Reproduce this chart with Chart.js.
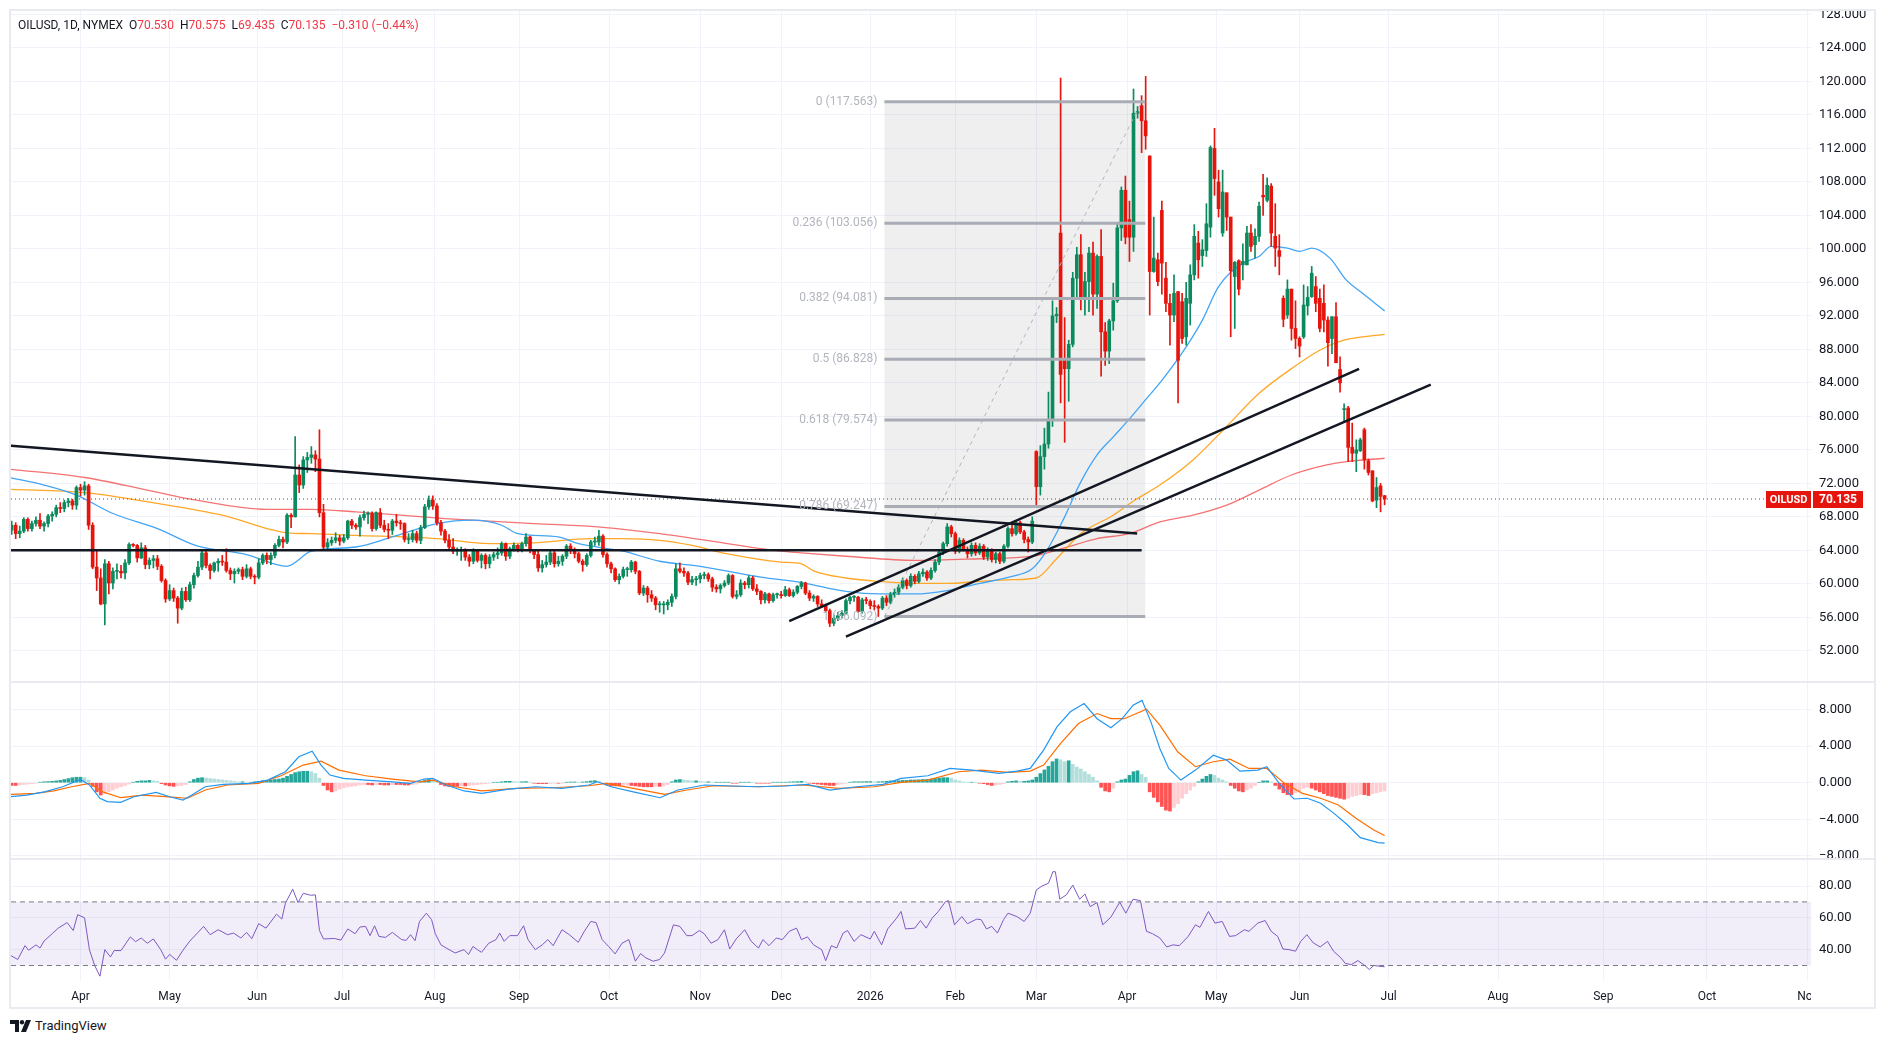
<!DOCTYPE html>
<html>
<head>
<meta charset="utf-8">
<script src="https://cdn.jsdelivr.net/npm/chart.js@4.4.1/dist/chart.umd.min.js"></script>
<style>
  html, body { margin: 0; padding: 0; background: #fff; width: 1884px; height: 1044px; overflow: hidden; }
  body { font-family: Roboto, 'Liberation Sans', sans-serif; color: #131722; }
  .pane { position: absolute; left: 0; }
  #frame { position: absolute; left: 9px; top: 9px; width: 1867px; height: 1000px; border: 2px solid #e9ebf0; box-sizing: border-box; }
  .sep { position: absolute; left: 9px; width: 1867px; height: 2px; background: #e9ebf0; }
  #hdr { position: absolute; left: 18px; top: 17px; font-size: 12px; line-height: 16px; white-space: pre; }
  #hdr .r { color: #f23645; }
  #logo { position: absolute; left: 10px; top: 1018px; font-size: 13px; line-height: 16px; display: flex; align-items: center; gap: 3px; }
</style>
</head>
<body>
<div id="frame"></div>
<div class="pane" style="top:11px;width:1874px;height:670px"><canvas id="mainChart"></canvas></div>
<div class="sep" style="top:681px"></div>
<div class="pane" style="top:683px;width:1874px;height:175px"><canvas id="macdChart"></canvas></div>
<div class="sep" style="top:858px"></div>
<div class="pane" style="top:860px;width:1874px;height:120px"><canvas id="rsiChart"></canvas></div>
<div class="pane" style="top:980px;width:1811px;height:28px"><canvas id="timeChart"></canvas></div>
<div id="hdr"></div>
<div id="logo">
  <svg width="22" height="12" viewBox="0 0 22 12"><path d="M0 0h9v12H5V4H0z" fill="#131722"/><circle cx="12" cy="2.2" r="2.2" fill="#131722"/><path d="M16 0h5l-5 12h-5z" fill="#131722"/></svg>
  <span>TradingView</span>
</div>

<script>
// --- OILUSD daily candles, Mar 2025 .. Jun 2026 (bar index 0 = first visible bar) ---
const opens = [
  66.4,67.0,66.0,66.3,67.7,66.6,67.2,67.6,66.9,67.2,
  68.1,68.3,69.1,69.0,69.7,69.9,69.4,71.5,71.2,71.7,
  67.0,62.0,60.7,57.6,62.4,60.1,61.5,61.5,61.3,62.5,
  64.7,64.6,63.1,64.3,62.3,62.8,63.0,62.1,60.4,58.2,
  59.2,58.3,57.1,59.1,58.1,59.9,61.0,62.0,63.7,62.2,
  61.6,62.5,62.7,62.6,61.6,61.2,61.5,61.7,60.9,61.8,
  60.9,60.8,62.5,63.4,62.9,63.4,64.6,65.3,65.0,68.2,
  68.0,73.0,71.8,74.8,75.1,75.4,74.9,68.5,64.4,64.9,
  65.2,65.5,65.1,65.5,67.5,67.0,66.8,67.9,68.3,68.4,
  66.6,68.5,67.0,66.5,66.4,67.5,67.3,67.2,65.3,65.3,
  66.0,65.2,66.7,69.2,70.0,69.3,67.3,66.3,65.2,64.4,
  63.9,63.9,64.0,63.2,62.7,64.0,62.8,63.4,62.4,63.2,
  63.5,63.7,64.8,63.3,64.2,64.6,64.0,64.8,65.6,64.0,
  63.5,61.9,62.3,62.6,63.7,62.4,62.7,63.3,64.5,64.1,
  63.6,62.7,62.3,63.4,65.0,65.0,65.7,63.5,62.4,61.8,
  60.5,60.9,61.7,61.7,62.6,61.5,58.9,59.5,58.7,58.3,
  57.5,57.5,57.5,57.8,58.5,61.8,61.5,61.3,60.2,60.5,
  60.6,61.0,61.1,60.6,59.6,59.4,59.8,60.1,61.0,58.5,
  58.7,60.1,59.9,60.7,59.4,59.1,58.1,58.8,58.0,58.7,
  58.7,58.6,59.3,58.6,59.0,59.7,60.1,58.9,58.3,58.5,
  57.6,57.4,56.8,55.3,55.9,56.2,56.5,58.0,58.4,58.4,
  56.7,58.1,57.9,57.4,57.3,57.1,58.3,57.8,58.7,59.0,
  59.6,60.4,59.8,60.9,60.3,61.2,61.4,60.7,61.6,62.6,
  63.8,64.8,66.8,66.0,63.9,65.2,64.1,63.6,64.6,63.7,
  64.5,63.2,64.0,62.9,63.6,62.7,64.5,66.6,66.0,67.3,
  66.2,65.3,65.0,75.8,71.6,75.2,76.7,79.5,92.0,101.9,
  86.9,85.7,88.6,96.5,99.3,94.2,96.1,99.5,94.6,99.1,
  90.1,87.8,91.4,93.8,102.5,107.0,103.5,101.4,116.2,117.1,
  115.3,111.1,97.3,98.7,104.6,96.5,93.5,92.1,94.9,93.7,
  89.5,93.5,96.9,100.7,99.2,99.8,102.6,112.0,108.0,101.9,
  106.7,103.8,96.7,98.6,98.1,98.1,101.9,100.5,101.5,106.4,
  105.8,107.5,101.5,99.8,94.1,92.1,95.2,90.5,89.3,89.5,
  93.2,94.3,95.5,94.1,93.5,91.5,89.3,91.9,85.6,80.8,
  81.0,76.3,75.6,75.9,78.4,74.7,73.5,70.0,71.7,70.53
];
const highs = [
  67.5,67.3,66.9,67.9,67.9,67.5,68.0,68.4,67.4,68.3,
  68.6,69.4,69.7,70.0,70.2,70.1,71.7,71.9,72.2,71.9,
  67.3,63.9,61.8,62.9,62.7,61.9,62.4,62.2,62.9,64.9,
  64.8,64.7,64.9,64.6,63.1,63.4,63.4,62.3,60.6,59.9,
  59.5,58.5,59.5,59.6,60.2,61.3,62.7,63.9,63.9,62.4,
  62.6,63.0,63.4,64.2,61.9,61.8,61.9,62.0,62.3,62.0,
  61.1,63.0,63.6,63.7,63.7,64.8,65.7,65.6,68.4,68.4,
  77.6,74.2,75.2,75.7,76.4,75.9,78.4,69.5,65.4,65.6,
  66.1,65.8,65.9,67.6,67.7,67.2,68.2,68.7,68.6,68.6,
  68.6,69.0,67.6,67.2,67.7,68.3,67.6,67.3,66.0,66.4,
  66.3,67.0,69.5,70.5,70.5,69.6,67.6,66.5,65.9,65.4,
  64.3,64.4,64.2,63.5,64.2,64.1,63.6,63.6,63.5,63.8,
  64.3,65.0,64.9,64.4,64.9,64.7,65.0,66.0,65.7,64.1,
  63.9,62.8,63.4,64.0,63.9,63.3,63.5,64.7,64.8,64.3,
  63.8,62.9,63.6,65.2,65.6,66.4,65.9,63.7,62.6,61.9,
  61.2,62.0,62.0,62.8,62.7,61.6,59.8,59.7,59.2,58.5,
  57.9,57.9,58.1,58.8,62.4,62.5,61.9,61.5,60.9,60.9,
  61.3,61.4,61.3,60.8,59.9,60.0,60.4,61.2,61.1,59.2,
  60.5,60.3,61.0,60.9,59.9,59.2,59.0,58.9,58.9,58.9,
  59.1,59.7,59.5,59.3,59.8,60.3,60.2,59.2,58.7,58.6,
  58.1,57.6,57.0,56.3,56.6,56.8,58.2,58.5,58.6,58.5,
  58.3,58.4,58.1,58.0,57.5,58.5,58.6,59.0,59.4,59.9,
  60.7,60.6,61.2,61.1,61.5,61.8,61.6,61.9,62.9,64.1,
  65.0,67.2,67.0,66.2,65.5,65.4,64.4,64.9,64.9,64.8,
  64.7,64.3,64.2,63.8,63.8,64.7,66.8,67.3,67.6,67.5,
  66.4,65.6,68.0,75.9,76.5,78.6,82.9,93.8,93.0,120.4,
  91.8,89.1,97.2,100.2,101.7,97.2,100.2,100.8,99.3,102.3,
  91.2,91.6,95.9,103.1,107.4,108.7,105.7,119.1,117.0,118.3,
  120.6,111.1,103.8,99.5,105.7,98.4,94.6,96.9,94.9,94.7,
  96.0,98.1,102.9,102.1,101.1,105.4,112.3,114.4,109.4,109.4,
  106.7,103.8,98.5,98.7,100.6,102.7,102.9,102.4,105.6,108.9,
  108.5,107.8,105.4,101.7,94.4,96.3,95.2,93.8,89.5,95.7,
  95.5,97.9,96.7,95.2,95.7,91.9,91.9,93.6,87.1,81.5,
  81.2,79.2,77.2,77.4,78.6,74.9,73.5,72.7,72.0,70.575
];
const lows = [
  65.9,65.4,65.5,66.1,66.3,66.3,66.9,66.6,66.3,66.8,
  67.5,68.0,68.5,68.6,69.2,68.9,68.9,70.5,70.6,66.5,
  61.8,59.2,57.5,55.1,58.8,59.4,60.6,60.7,60.6,62.3,
  64.4,62.6,63.0,61.8,61.8,61.9,61.7,60.2,57.8,58.0,
  57.9,55.3,56.9,57.9,57.9,59.5,60.8,61.7,61.9,60.6,
  61.4,61.5,62.2,61.4,60.5,60.1,61.2,60.5,60.7,60.6,
  60.0,60.6,62.3,62.4,62.3,63.1,64.4,64.3,64.8,66.7,
  68.0,70.9,71.4,73.3,74.4,73.4,68.0,64.0,64.1,64.6,
  64.9,64.6,64.9,65.3,66.6,66.5,65.7,67.6,67.2,66.3,
  66.4,66.7,66.2,65.4,65.9,66.9,66.5,65.0,64.8,65.0,
  64.9,64.8,66.6,68.9,68.9,67.0,65.8,64.9,64.0,63.6,
  63.4,62.8,62.8,62.1,62.4,62.6,61.9,61.8,61.9,62.8,
  63.0,63.4,62.8,63.0,63.9,63.8,63.8,64.5,63.7,63.0,
  61.5,61.4,62.0,62.3,62.0,62.1,62.2,63.0,63.6,63.1,
  62.5,61.5,62.1,63.2,64.6,64.6,63.2,62.0,61.3,60.3,
  60.0,60.7,60.9,61.4,61.2,58.7,58.6,57.8,57.9,56.9,
  56.6,56.4,56.9,57.3,58.2,61.3,60.9,59.9,59.9,59.8,
  60.1,60.6,60.3,59.1,59.0,58.9,59.6,59.9,58.3,58.2,
  58.5,59.4,59.5,59.2,58.7,57.6,57.7,57.7,57.8,58.3,
  58.3,58.5,58.5,58.4,58.8,59.4,58.7,58.0,57.9,57.3,
  57.2,56.6,54.9,55.0,55.6,55.9,56.4,57.6,57.9,56.6,
  56.5,57.6,57.0,56.9,56.1,56.9,57.4,57.6,58.4,58.7,
  59.4,59.4,59.6,60.0,60.1,60.9,60.4,60.5,61.4,62.3,
  63.5,64.5,65.6,63.6,63.7,63.9,63.1,63.3,63.4,63.5,
  62.9,62.8,62.6,62.5,62.4,62.5,64.3,65.7,65.8,66.0,
  64.9,63.8,64.8,69.4,70.6,73.7,76.2,78.8,91.2,81.6,
  76.9,81.8,88.3,94.2,92.7,92.1,92.5,92.1,92.9,84.8,
  86.1,86.3,90.3,93.6,101.0,100.6,98.5,99.7,115.6,111.5,
  111.9,92.1,97.2,95.6,94.6,92.5,88.5,91.3,81.6,88.7,
  88.5,90.9,96.3,96.5,97.9,99.1,101.4,106.4,103.8,101.5,
  102.2,89.5,90.5,94.5,96.3,98.1,99.7,98.9,100.9,104.0,
  105.6,100.3,97.9,96.9,90.7,91.7,89.1,88.1,87.1,89.3,
  92.1,94.2,92.5,90.1,90.1,86.0,87.5,86.4,82.9,79.4,
  74.6,74.6,73.4,75.8,73.7,73.0,69.8,69.1,68.6,69.435
];
const closes = [
  67.0,66.0,66.3,67.7,66.6,67.2,67.6,66.9,67.2,68.1,
  68.3,69.1,69.0,69.7,69.9,69.4,71.5,71.2,71.7,67.0,
  62.0,60.7,57.6,62.4,60.1,61.5,61.5,61.3,62.5,64.7,
  64.6,63.1,64.3,62.3,62.8,63.0,62.1,60.4,58.2,59.2,
  58.3,57.1,59.1,58.1,59.9,61.0,62.0,63.7,62.2,61.6,
  62.5,62.7,62.6,61.6,61.2,61.5,61.7,60.9,61.8,60.9,
  60.8,62.5,63.4,62.9,63.4,64.6,65.3,65.0,68.2,68.0,
  73.0,71.8,74.8,75.1,75.4,74.9,68.5,64.4,64.9,65.2,
  65.5,65.1,65.5,67.5,67.0,66.8,67.9,68.3,68.4,66.6,
  68.5,67.0,66.5,66.4,67.5,67.3,67.2,65.3,65.3,66.0,
  65.2,66.7,69.2,70.0,69.3,67.3,66.3,65.2,64.4,63.9,
  63.9,64.0,63.2,62.7,64.0,62.8,63.4,62.4,63.2,63.5,
  63.7,64.8,63.3,64.2,64.6,64.0,64.8,65.6,64.0,63.5,
  61.9,62.3,62.6,63.7,62.4,62.7,63.3,64.5,64.1,63.6,
  62.7,62.3,63.4,65.0,65.0,65.7,63.5,62.4,61.8,60.5,
  60.9,61.7,61.7,62.6,61.5,58.9,59.5,58.7,58.3,57.5,
  57.5,57.5,57.8,58.5,61.8,61.5,61.3,60.2,60.5,60.6,
  61.0,61.1,60.6,59.6,59.4,59.8,60.1,61.0,58.5,58.7,
  60.1,59.9,60.7,59.4,59.1,58.1,58.8,58.0,58.7,58.7,
  58.6,59.3,58.6,59.0,59.7,60.1,58.9,58.3,58.5,57.6,
  57.4,56.8,55.3,55.9,56.2,56.5,58.0,58.4,58.4,56.7,
  58.1,58.0,57.4,57.3,57.1,58.3,57.8,58.7,59.0,59.6,
  60.4,59.8,60.9,60.3,61.2,61.4,60.7,61.6,62.6,63.8,
  64.8,66.8,66.0,63.9,65.2,64.1,63.6,64.6,63.7,64.5,
  63.2,64.0,62.9,63.6,62.7,64.5,66.6,66.0,67.3,66.2,
  65.3,65.0,67.5,71.6,75.2,76.7,79.5,92.0,92.2,85.0,
  85.7,88.6,96.5,99.3,94.2,96.1,99.5,94.6,99.1,90.1,
  87.8,91.4,93.8,102.5,107.0,101.4,101.4,116.2,116.4,115.3,
  113.5,97.3,98.9,96.1,98.3,93.5,92.1,94.7,86.7,89.3,
  94.1,96.9,101.5,98.7,99.9,103.0,112.1,108.4,104.8,106.8,
  103.8,97.4,98.4,95.2,98.5,101.9,100.3,101.5,105.1,106.2,
  107.6,101.9,100.1,99.1,91.6,95.2,90.5,89.3,88.4,93.3,
  94.2,97.1,93.5,90.5,91.5,88.8,91.9,86.4,84.0,80.9,
  76.3,75.6,76.0,77.2,74.8,73.3,69.9,71.5,70.445,70.135
];

// --- moving averages [bar, price] (blue 50, orange 100, red 200) ---
const maBlue = [[-0.5,72.7],[8,71.8],[16,70.6],[25,68.4],[36,66.6],[46,64.5],[58,63.5],[68,62.1],[74,63.9],[85,64.4],[94,65.6],[105,67.2],[114,67.6],[121,67.0],[125,66.0],[135,65.6],[140,64.8],[151,63.9],[160,62.7],[170,62.1],[185,60.8],[195,60.15],[206,59.1],[214,58.8],[223,58.8],[231,59.2],[239,60.05],[247,60.9],[252,61.8],[255.5,63.9],[259.7,67.7],[263.8,72.0],[268,75.4],[272,77.55],[276,79.7],[280,82.0],[284,84.3],[290,88.3],[294,91.5],[298,95.5],[304,98.3],[308,99.1],[311,100.3],[315,100.1],[318,99.7],[321,100.1],[325.5,98.9],[329.5,96.3],[333,94.9],[339,92.6]];
const maOrange = [[-0.5,71.3],[18,70.9],[36,69.6],[52,68.2],[68,66.1],[74,66.0],[85,65.8],[105,65.4],[118,64.8],[129,64.9],[143,65.4],[151,65.4],[160,65.2],[168,64.6],[176.5,63.6],[190,62.6],[195,62.4],[198,61.55],[206,60.7],[214,60.3],[223,60.05],[231,60.05],[239,60.3],[247,60.5],[253,60.7],[258,63.0],[264,66.0],[272,68.2],[277,69.9],[283.5,71.8],[291.7,74.8],[300,78.8],[308,82.75],[316,85.7],[323,87.9],[329,89.1],[339,89.8]];
const maRed = [[-0.5,73.7],[18,72.7],[33.5,71.2],[45.6,70.0],[63,68.9],[74,68.9],[85,68.6],[107,67.8],[129,67.2],[146,66.75],[160,66.0],[170,65.3],[190,63.9],[195,63.7],[206,63.3],[223,62.8],[239,63.0],[252,63.3],[260,64.3],[268,65.4],[276,66.0],[283.5,67.4],[291.7,68.2],[300,69.4],[308,71.2],[316,73.0],[324.7,74.2],[329.6,74.6],[339,75.0]];

// --- drawings: trend lines [x1, y1, x2, y2] and fib retracement ---
const trendLines = [
  [-0.5, 76.5, 277.9, 66.0],
  [-0.5, 64.0, 279, 64.0],
  [192, 55.55, 332.7, 85.67],
  [206, 53.7, 350.4, 83.8]
];
const fibLevels = [0, 0.236, 0.382, 0.5, 0.618, 0.786, 1];
const fibPrices = [117.563, 103.056, 94.081, 86.828, 79.574, 69.247, 56.092];
const fibStart = 215.5, fibEnd = 279.9;

// --- MACD (12, 26, 9) ---
const macdLine = [[-0.5,-1.53],[3.7,-1.35],[8.1,-1.0],[12.6,-0.44],[17,0.36],[19.2,-0.25],[21.8,-1.7],[23.6,-2.07],[26.9,-2.15],[30.2,-1.53],[35.7,-1.05],[39,-1.53],[42.3,-1.9],[44.5,-1.35],[47.8,-0.44],[52.2,-0.18],[58.8,-0.07],[63.2,0.29],[67.6,1.2],[70.9,2.84],[74.2,3.45],[76.4,1.93],[78.6,0.84],[81.9,0.47],[87.4,0.29],[94,0.1],[98.5,-0.07],[101.8,0.4],[104,0.47],[107.3,-0.25],[111.7,-0.9],[116.1,-1.16],[122.7,-0.7],[129.3,-0.44],[135.9,-0.62],[142.5,-0.25],[144.7,0.1],[148,-0.44],[153.5,-1.0],[160.1,-1.64],[164.5,-0.8],[171.1,-0.25],[177.8,-0.36],[184.4,-0.44],[191,-0.36],[196.5,-0.18],[202,-0.8],[208.6,-0.44],[215.2,-0.18],[219.6,0.47],[226.2,0.76],[231.7,1.56],[237.2,1.38],[243.8,1.02],[248.2,1.27],[251.5,1.56],[254.8,3.56],[258.1,6.1],[261.4,7.75],[264.8,8.65],[268,7.0],[271.4,6.0],[274.2,7.0],[276.9,8.47],[279.1,9.0],[281.3,6.65],[283.5,3.75],[285.7,1.56],[288.7,0.29],[292.3,1.38],[296.7,3.0],[300,2.47],[303.3,1.27],[307.7,1.38],[309.9,1.75],[313.3,-0.25],[316.6,-1.78],[319.9,-1.7],[323.2,-2.25],[326.5,-3.35],[329.8,-4.6],[333,-6.0],[337.4,-6.55],[339,-6.6]];
const signalLine = [[-0.5,-1.27],[5.9,-1.16],[10.4,-0.9],[14.8,-0.44],[19.2,-0.07],[22.5,-1.0],[26.9,-1.64],[32.4,-1.35],[37.9,-1.53],[43.4,-1.7],[47.8,-0.8],[53.3,-0.25],[61,-0.07],[66.5,0.76],[72,1.93],[76.4,2.36],[80.8,1.38],[87.4,0.76],[94,0.4],[100.7,0.1],[104,0.29],[109.5,-0.44],[116.1,-0.9],[124.9,-0.62],[133.7,-0.55],[142.5,-0.33],[146.9,-0.07],[153.5,-0.62],[161.2,-1.27],[166.7,-0.8],[173.3,-0.33],[184.4,-0.44],[195.4,-0.25],[204.2,-0.62],[213,-0.44],[219.6,0.04],[226.2,0.29],[233.8,1.2],[239.4,1.38],[246,1.13],[251.5,1.27],[254.8,1.93],[259,4.3],[263.4,6.47],[268,7.56],[271.4,7.0],[274.7,7.0],[280.2,8.04],[283.5,6.3],[287.9,3.38],[292.3,1.75],[296.7,2.29],[300.8,2.58],[305.5,1.56],[309.9,1.56],[314.3,-0.07],[318.7,-1.16],[323.2,-1.7],[327.6,-2.44],[332,-3.9],[336.3,-5.16],[339,-5.78]];
const macdHist = [
  -0.3,-0.3,-0.25,-0.2,-0.15,-0.1,-0.05,0.05,0.1,0.12,
  0.15,0.2,0.25,0.35,0.45,0.55,0.6,0.6,0.55,0.3,
  -0.4,-1.0,-1.35,-1.2,-1.0,-0.8,-0.6,-0.45,-0.3,-0.15,
  0.05,0.15,0.2,0.2,0.25,0.2,0.15,-0.1,-0.25,-0.35,
  -0.4,-0.35,-0.3,-0.2,0.1,0.35,0.5,0.55,0.5,0.45,
  0.4,0.35,0.3,0.25,0.2,0.15,0.1,0.1,0.05,0.05,
  0.1,0.15,0.2,0.25,0.3,0.35,0.4,0.5,0.7,0.9,
  1.1,1.2,1.25,1.25,1.2,1.0,0.5,-0.3,-0.8,-1.0,
  -0.9,-0.7,-0.55,-0.45,-0.4,-0.35,-0.25,-0.2,-0.2,-0.25,
  -0.2,-0.2,-0.25,-0.25,-0.2,-0.2,-0.2,-0.25,-0.25,-0.2,
  -0.15,0.05,0.25,0.35,0.25,0.05,-0.2,-0.35,-0.4,-0.4,
  -0.4,-0.35,-0.35,-0.3,-0.25,-0.2,-0.15,-0.1,-0.05,0.0,
  0.05,0.1,0.15,0.15,0.12,0.1,0.1,0.12,0.05,-0.05,
  -0.1,-0.1,-0.1,-0.08,-0.05,-0.05,-0.03,0.05,0.08,0.08,
  0.05,0.08,0.12,0.18,0.22,0.15,-0.1,-0.25,-0.35,-0.35,
  -0.35,-0.3,-0.28,-0.3,-0.35,-0.4,-0.45,-0.45,-0.45,-0.4,
  -0.4,-0.35,-0.2,0.1,0.3,0.35,0.3,0.25,0.2,0.2,
  0.15,0.1,0.1,0.05,0.05,0.05,0.05,0.05,-0.05,-0.05,
  0.05,0.05,0.05,0.0,-0.05,-0.05,-0.05,-0.05,0.05,0.05,
  0.05,0.05,0.08,0.1,0.12,0.15,0.1,-0.05,-0.1,-0.15,
  -0.2,-0.25,-0.3,-0.3,-0.2,-0.15,-0.05,0.05,0.1,0.1,
  0.1,0.12,0.12,0.1,0.1,0.12,0.15,0.2,0.2,0.22,
  0.25,0.25,0.3,0.3,0.32,0.35,0.35,0.4,0.45,0.5,
  0.55,0.55,0.5,0.3,0.2,0.1,0.05,0.05,0.0,-0.05,
  -0.1,-0.2,-0.3,-0.25,-0.2,-0.1,0.1,0.15,0.2,0.15,
  0.15,0.2,0.3,0.6,1.0,1.4,1.8,2.3,2.6,2.5,
  2.3,2.4,2.0,1.7,1.5,1.2,0.9,0.6,0.2,-0.5,
  -0.9,-1.0,-0.6,0.1,0.3,0.4,0.8,1.2,1.3,0.9,
  0.6,-1.0,-1.6,-2.1,-2.6,-3.0,-3.1,-2.7,-2.3,-1.7,
  -1.2,-0.8,-0.4,0.1,0.4,0.7,0.9,0.8,0.5,0.3,
  0.1,-0.3,-0.6,-0.9,-1.0,-0.8,-0.6,-0.3,0.0,0.2,
  0.2,0.1,-0.3,-0.7,-1.1,-1.3,-1.3,-1.1,-0.9,-0.6,
  -0.5,-0.6,-0.8,-1.0,-1.2,-1.4,-1.5,-1.6,-1.7,-1.8,
  -1.7,-1.5,-1.4,-1.3,-1.3,-1.4,-1.2,-1.1,-1.0,-0.9
];

// --- RSI (14) ---
const rsiLine = [[-0.5,36.7],[1.5,33.8],[3.3,42.5],[4.2,39.6],[6,43],[7,41],[8,45.4],[10,50],[11.5,53.5],[13.7,57],[15.2,52],[16.3,62],[18,60],[19.2,40],[20.5,30],[21.8,23.3],[23,40],[24.4,35.4],[25.3,39.4],[27,39.4],[29.3,48],[30.6,45],[32,47.3],[33.5,44],[35,46.7],[36.8,40],[38,34],[39,37],[40.7,33.3],[42.3,39.6],[44,45.4],[46,50.8],[47.4,54.6],[49,49.4],[51,52.5],[53.3,49.4],[54.8,50.4],[56.6,47.3],[58,50.8],[59.3,46.9],[61,56.3],[62.8,53.5],[65.4,62.3],[66.7,59.2],[67.6,69.2],[69.4,78],[70.7,69.6],[72,75.4],[73.8,74.2],[75,74.4],[76,52],[77,46.7],[79.7,47],[81.3,46],[83,53],[84.8,50],[86,54.2],[87.4,54.6],[88.5,48.8],[89.6,55],[90.7,48.3],[92.3,47.7],[94,50.8],[96.3,46.3],[97.4,45.8],[98.5,49.4],[99.6,45.6],[100.7,57.7],[102.4,62.9],[103.7,58.8],[104.6,50],[106,43],[107.3,41],[109.5,37.9],[111.7,40],[112.8,36.9],[113.9,42],[115,40],[116,38.3],[117.8,44],[119.6,46.3],[120.5,50.4],[121.6,45.2],[123,48.8],[124.9,48.8],[126.4,55],[127.5,46.3],[129.3,40],[131,43],[132.4,46.3],[133.7,42.5],[135.9,52.5],[137.7,49.4],[139.9,44.6],[141.4,51.5],[143,57.7],[144.3,57],[145.8,46.3],[147.4,42],[149,37.3],[150.7,44],[152.4,46.3],[154,32.7],[155.3,37.5],[156.6,34.8],[158.4,32.7],[160,33.8],[161.2,37.9],[163.4,55.6],[165,54.6],[166.7,48.8],[168,48.8],[169.8,52],[171,50],[172.7,44],[174.4,46.3],[176,52.5],[177.3,40.4],[178.9,46.7],[181,52.5],[182.6,45.2],[184.4,41],[185.5,46.3],[187,42.5],[188.8,47.3],[190.3,46.3],[192,51.5],[193.8,53.5],[195,46.3],[196.5,48],[198,43],[200,40],[201,33],[202.4,42.5],[203.7,41],[205.3,50.4],[206.4,52],[208,45.2],[209.7,49.4],[212,46.7],[213,51.5],[214.8,43],[216.3,53],[218.5,59.8],[219.6,64],[220.7,53],[223,53.5],[224.4,58.3],[225.8,53.5],[227.3,59.8],[228.8,64],[230.6,70.2],[231.3,70.8],[232.8,55.6],[234.6,60.8],[236,56.3],[238.3,59.2],[239.4,58.8],[240.7,53],[242,54.6],[243.4,50.4],[244.9,58.8],[246,62.9],[248.2,60.8],[250,57.7],[251.5,62.9],[253,77.5],[254.4,80],[256,81.7],[257.1,89],[257.7,89],[258.8,71.7],[260.4,74.4],[262,80.6],[263.7,71.7],[265,75],[266.3,67],[268,69.6],[269.4,55.6],[271.4,60.4],[273.6,69.8],[275.1,62.9],[276.9,71.7],[278.7,70.8],[280.2,51.5],[281.7,50],[283.5,47.3],[285.2,41.7],[286.8,43],[288.3,42.5],[290.5,48.3],[292.3,55.6],[293.4,54],[295.5,64],[297.1,56.7],[298.9,57.7],[300.7,48.3],[302.2,48.8],[304.4,52.5],[305.5,51.5],[307.7,56.7],[309.5,58.3],[311,51.5],[312.6,48.3],[313.9,40.4],[315.4,40],[317,39],[318.3,45.2],[319.8,49.4],[321.4,44.2],[323.1,41.7],[324.9,45.2],[326.4,39],[328.2,34.8],[329.3,31.3],[330.8,30.6],[332.4,33.1],[334.1,30],[335.2,27.5],[336.3,30],[339,29.2]];

// --- axis ticks ---
const priceTicks = [52,56,60,64,68,72,76,80,84,88,92,96,100,104,108,112,116,120,124,128];
const macdTicks = [-8, -4, 0, 4, 8];
const rsiTicks = [40, 60, 80];
const monthTicks = [17, 39, 60.6, 81.6, 104.5, 125.3, 147.5, 170, 190, 212, 233, 253, 275.4, 297.4, 318, 340, 367, 393, 418.6, 443.5];
const monthLabels = ['Apr','May','Jun','Jul','Aug','Sep','Oct','Nov','Dec','2026','Feb','Mar','Apr','May','Jun','Jul','Aug','Sep','Oct','Nov'];

// --- common setup ---
const FONT = "Roboto, 'Liberation Sans', sans-serif";
Chart.defaults.font.family = FONT;
Chart.defaults.color = '#131722';
const UP = '#0b8a5e', DOWN = '#e5150d', GRID = '#f0f3fa';
const xMin = -0.16, xMax = 444.28;
const last = closes.length - 1;

function xAxis() {
  return {
    type: 'linear', min: xMin, max: xMax, offset: false,
    afterBuildTicks: s => { s.ticks = monthTicks.map(v => ({ value: v })); },
    afterFit: s => { s.height = 0; s.paddingLeft = 0; s.paddingRight = 0; },
    grid: { color: GRID, drawTicks: false, offset: false },
    border: { display: false },
    ticks: { display: false }
  };
}
function yAxis(min, max, ticks, fmt) {
  return {
    position: 'right', min, max,
    afterBuildTicks: s => { s.ticks = ticks.map(v => ({ value: v })); },
    afterFit: s => { s.width = 63; s.paddingTop = 0; s.paddingBottom = 0; },
    grid: { color: GRID, drawTicks: false },
    border: { display: false },
    ticks: { padding: 8, color: '#131722', font: { size: 13 }, callback: fmt }
  };
}
function line(points, color, width, extra) {
  return Object.assign({
    type: 'line', data: points.map(p => ({ x: p[0], y: p[1] })),
    borderColor: color, borderWidth: width, pointRadius: 0, fill: false, tension: 0
  }, extra || {});
}
const baseOptions = {
  responsive: true, maintainAspectRatio: false, animation: false,
  layout: { padding: { left: 11, right: 0, top: 0, bottom: 0 } },
  plugins: { legend: { display: false }, tooltip: { enabled: false } }
};
// signed number with a real minus sign
const signed = (v, d) => (v < 0 ? '\u2212' : '') + Math.abs(v).toFixed(d);

// --- header ---
const chg = closes[last] - closes[last - 1];
const pct = chg / closes[last - 1] * 100;
document.getElementById('hdr').innerHTML =
  'OILUSD, 1D, NYMEX  O<span class="r">' + opens[last].toFixed(3) + '</span>  H<span class="r">' + highs[last].toFixed(3) +
  '</span>  L<span class="r">' + lows[last].toFixed(3) + '</span>  C<span class="r">' + closes[last].toFixed(3) +
  '</span>  <span class="r">' + signed(chg, 3) + ' (' + signed(pct, 2) + '%)</span>';

// --- main price pane ---
const idx = closes.map((_, i) => i);
const candleColors = idx.map(i => closes[i] >= opens[i] ? UP : DOWN);

const mainDeco = {
  id: 'mainDeco',
  beforeDatasetsDraw(chart) {
    const { ctx, chartArea, scales: { x, y } } = chart;
    ctx.save();
    ctx.beginPath();
    ctx.rect(chartArea.left, chartArea.top, chartArea.width, chartArea.height);
    ctx.clip();
    const x0 = x.getPixelForValue(fibStart), x1 = x.getPixelForValue(fibEnd);
    const y0 = y.getPixelForValue(fibPrices[0]), y1 = y.getPixelForValue(fibPrices[fibPrices.length - 1]);
    ctx.fillStyle = 'rgba(120,123,134,0.12)';
    ctx.fillRect(x0, y0, x1 - x0, y1 - y0);
    ctx.restore();
  },
  afterDatasetsDraw(chart) {
    const { ctx, scales: { x, y } } = chart;
    ctx.save();
    ctx.font = '12px ' + FONT;
    ctx.fillStyle = '#b2b5be';
    ctx.textAlign = 'right';
    ctx.textBaseline = 'middle';
    const lx = x.getPixelForValue(fibStart) - 7;
    fibLevels.forEach((lv, k) => {
      ctx.fillText(lv + ' (' + fibPrices[k].toFixed(3) + ')', lx, y.getPixelForValue(fibPrices[k]));
    });
    // last price labels
    const py = Math.round(y.getPixelForValue(closes[last]));
    ctx.fillStyle = DOWN;
    ctx.fillRect(1766, py - 8, 45, 17);
    ctx.fillRect(1813, py - 8, 50, 17);
    ctx.fillStyle = '#fff';
    ctx.textAlign = 'center';
    ctx.font = 'bold 11px ' + FONT;
    ctx.fillText('OILUSD', 1788.5, py + 1);
    ctx.font = 'bold 12px ' + FONT;
    ctx.fillText(closes[last].toFixed(3), 1838, py + 1);
    ctx.restore();
  }
};

new Chart(document.getElementById('mainChart'), {
  type: 'bar',
  data: {
    datasets: [
      line(maBlue, '#42a5f5', 1.3, { order: 6, cubicInterpolationMode: 'monotone' }),
      line(maOrange, '#ffa726', 1.3, { order: 6, cubicInterpolationMode: 'monotone' }),
      line(maRed, 'rgba(242,80,80,0.8)', 1.3, { order: 6, cubicInterpolationMode: 'monotone' }),
      { type: 'bar', data: idx.map(i => ({ x: i, y: [lows[i], highs[i]] })), backgroundColor: candleColors,
        barThickness: 1, grouped: false, order: 4 },
      { type: 'bar', data: idx.map(i => ({ x: i, y: [opens[i], closes[i]] })), backgroundColor: candleColors,
        barThickness: 3, minBarLength: 1, grouped: false, order: 3 },
      line([[xMin, closes[last]], [xMax, closes[last]]], DOWN, 1, { borderDash: [1, 3], order: 2 }),
      line([[fibStart, fibPrices[6]], [fibEnd - 0.9, fibPrices[0]]], '#b2b5be', 1, { borderDash: [4, 4], order: 2 }),
      ...fibPrices.map(p => line([[fibStart, p], [fibEnd, p]], '#a9acb5', 3, { order: 1 })),
      ...trendLines.map(t => line([[t[0], t[1]], [t[2], t[3]]], '#131722', 2.5, { order: 0 }))
    ]
  },
  options: Object.assign({}, baseOptions, {
    scales: { x: xAxis(), y: yAxis(48.4, 128.41, priceTicks, v => v.toFixed(3)) }
  }),
  plugins: [mainDeco]
});

// --- MACD pane ---
const histColors = macdHist.map((v, i) => {
  const prev = i ? macdHist[i - 1] : v;
  if (v >= 0) return v >= prev ? '#26a69a' : '#b2dfdb';
  return v <= prev ? '#ff5252' : '#ffcdd2';
});
new Chart(document.getElementById('macdChart'), {
  type: 'bar',
  data: {
    datasets: [
      { type: 'bar', data: macdHist.map((v, i) => ({ x: i, y: v })), backgroundColor: histColors,
        barThickness: 3, grouped: false, order: 3 },
      line(macdLine, '#2196f3', 1.2, { order: 1 }),
      line(signalLine, '#ff6d00', 1.2, { order: 2 })
    ]
  },
  options: Object.assign({}, baseOptions, {
    scales: { x: xAxis(), y: yAxis(-8.23, 10.9, macdTicks, v => signed(v, 3)) }
  })
});

// --- RSI pane ---
const rsiBand = {
  id: 'rsiBand',
  beforeDatasetsDraw(chart) {
    const { ctx, chartArea, scales: { y } } = chart;
    const y70 = y.getPixelForValue(70), y30 = y.getPixelForValue(30);
    ctx.save();
    ctx.fillStyle = 'rgba(126,87,194,0.1)';
    ctx.fillRect(chartArea.left, y70, chartArea.width, y30 - y70);
    ctx.restore();
  }
};
new Chart(document.getElementById('rsiChart'), {
  type: 'line',
  data: {
    datasets: [
      line([[xMin, 70], [xMax, 70]], '#787b86', 1, { borderDash: [5, 4] }),
      line([[xMin, 30], [xMax, 30]], '#787b86', 1, { borderDash: [5, 4] }),
      line(rsiLine, '#7e57c2', 1)
    ]
  },
  options: Object.assign({}, baseOptions, {
    scales: { x: xAxis(), y: yAxis(20.9, 96.35, rsiTicks, v => v.toFixed(2)) }
  }),
  plugins: [rsiBand]
});

// --- time axis strip ---
new Chart(document.getElementById('timeChart'), {
  type: 'line',
  data: { datasets: [] },
  options: Object.assign({}, baseOptions, {
    scales: {
      x: {
        type: 'linear', min: xMin, max: xMax, offset: false,
        afterBuildTicks: s => { s.ticks = monthTicks.map(v => ({ value: v })); },
        afterFit: s => { s.height = 26; s.paddingLeft = 0; s.paddingRight = 0; },
        grid: { display: false, drawTicks: false },
        border: { display: false },
        ticks: {
          autoSkip: false, maxRotation: 0, padding: 8, color: '#131722', font: { size: 12 },
          callback: v => monthLabels[monthTicks.indexOf(v)]
        }
      },
      y: { display: false }
    }
  })
});
</script>
</body>
</html>
